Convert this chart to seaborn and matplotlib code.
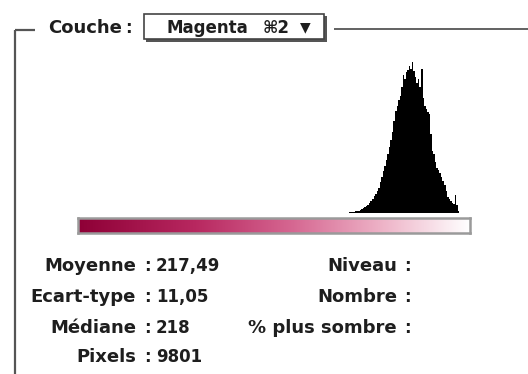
import numpy as np
import pandas as pd
import matplotlib
matplotlib.use("Agg")
import matplotlib.pyplot as plt
from matplotlib.colors import LinearSegmentedColormap
from matplotlib.patches import Rectangle
import seaborn as sns

# Magenta channel levels (0-255) with their pixel counts
levels = list(range(176, 249))
counts = [1, 2, 2, 3, 3, 4, 5, 6, 8, 9, 12, 14, 17, 21, 26,
          30, 35, 42, 48, 55, 62, 78, 92, 105, 118,
          135, 150, 168, 185, 205, 232, 258, 270, 285, 296,
          318, 350, 340, 356, 362, 372, 365, 382, 360, 345,
          330, 340, 318, 364, 292, 270, 262, 255, 250, 200,
          158, 150, 130, 115, 110, 100, 90, 80, 72, 55,
          40, 36, 30, 26, 24, 46, 20, 4]

channel_label = "Couche"
channel_name = "Magenta"
channel_key = "\u23182"
stat_labels = ["Moyenne", "Ecart-type", "M\u00e9diane", "Pixels"]
stat_values = ["217,49", "11,05", "218", "9801"]
info_labels = ["Niveau", "Nombre", "% plus sombre"]

df = pd.DataFrame({"level": levels, "count": counts})

sns.set_theme(style="white")
plt.rcParams["font.family"] = ["DejaVu Sans"]

W, H = 528, 374
fig = plt.figure(figsize=(W / 100, H / 100), dpi=100)
fig.patch.set_facecolor("white")

def fx(px):
    return px / W

def fy(py):
    return 1 - py / H

# histogram panel
ax_h = fig.add_axes([fx(78), fy(213), fx(470) - fx(78), fy(62) - fy(213)])
sns.histplot(data=df, x="level", weights="count", discrete=True,
             element="step", fill=True, color="black", alpha=1,
             linewidth=0, ax=ax_h)
ax_h.set_xlim(-0.5, 255.5)
ax_h.set_ylim(0, max(counts))
ax_h.set_axis_off()

# channel gradient bar
ax_g = fig.add_axes([fx(78), fy(233), fx(470) - fx(78), fy(218) - fy(233)])
cmap = LinearSegmentedColormap.from_list(
    "magenta_ramp",
    [(0.0, "#8e0036"), (0.3, "#b82860"), (0.55, "#d66892"),
     (0.78, "#eeb4c8"), (1.0, "#ffffff")])
ax_g.imshow(np.linspace(0, 1, 256)[None, :], aspect="auto", cmap=cmap,
            extent=(-0.5, 255.5, 0, 1))
ax_g.set_xticks([])
ax_g.set_yticks([])
for s in ax_g.spines.values():
    s.set_visible(True)
    s.set_color("#9a9a9a")
    s.set_linewidth(1.8)

# dialog frame and texts in pixel coordinates
ov = fig.add_axes([0, 0, 1, 1], zorder=-1)
ov.set_xlim(0, W)
ov.set_ylim(H, 0)
ov.set_axis_off()

line_c = "#555555"
ov.plot([15, 15], [30, H + 2], color=line_c, lw=1.6, solid_capstyle="butt")
ov.plot([15, 35], [30, 30], color=line_c, lw=1.6, solid_capstyle="butt")
ov.plot([334, W], [29, 29], color=line_c, lw=1.3, solid_capstyle="butt")

# popup menu box with drop shadow
ov.add_patch(Rectangle((146, 16), 181, 26, facecolor="#555555", edgecolor="none"))
ov.add_patch(Rectangle((144, 14), 180, 25, facecolor="white",
                       edgecolor="#444444", lw=1.2))

txt_c = "#1e1e1e"
fs_lab = 13
fs_val = 12
kw = dict(va="center", fontweight="bold", color=txt_c)
ov.text(48, 28, channel_label, ha="left", fontsize=fs_lab, **kw)
ov.text(128, 28, ":", ha="center", fontsize=fs_val, **kw)
ov.text(166, 28, channel_name, ha="left", fontsize=12, **kw)
ov.text(263, 28, channel_key, ha="left", fontsize=12, **kw)
ov.text(300, 27, "\u25bc", ha="left", fontsize=10, **kw)

rows_y = [266, 297, 328, 357]
for lab, val, y in zip(stat_labels, stat_values, rows_y):
    ov.text(136, y, lab, ha="right", fontsize=fs_lab, **kw)
    ov.text(147, y, ":", ha="center", fontsize=fs_val, **kw)
    ov.text(156, y, val, ha="left", fontsize=fs_val, **kw)

for lab, y in zip(info_labels, rows_y[:3]):
    ov.text(397, y, lab, ha="right", fontsize=fs_lab, **kw)
    ov.text(407, y, ":", ha="center", fontsize=fs_val, **kw)

fig.savefig("out.png", dpi=100, facecolor="white")
